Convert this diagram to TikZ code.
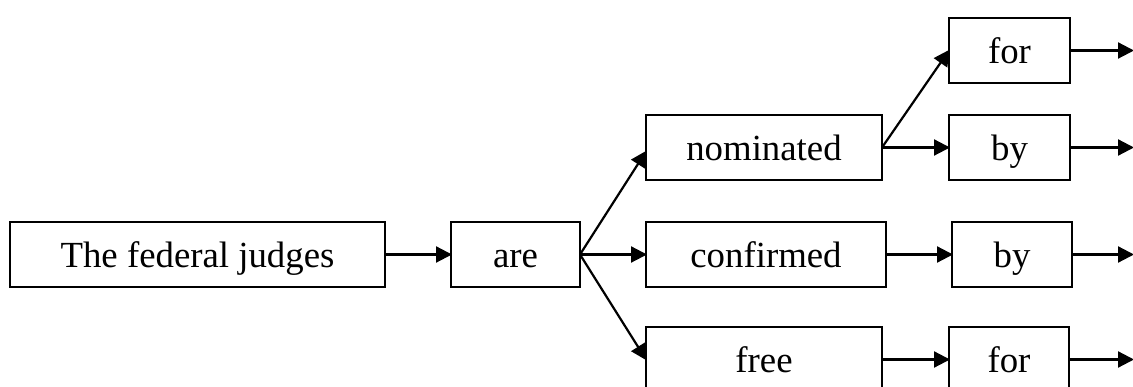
\documentclass[tikz,border=0pt]{standalone}
\usepackage{fontspec}
\setmainfont{Liberation Serif}
\usetikzlibrary{arrows.meta}

\tikzset{
  wordbox/.style={draw, line width=2.4pt, inner sep=0pt, outer sep=0pt,
    font=\fontsize{36.8}{44}\selectfont, text height=46pt, text depth=19pt,
    anchor=north west},
  link/.style={line width=2.2pt, -{Triangle[length=16pt,width=16pt]}, shorten >=-1pt}
}

\begin{document}
\begin{tikzpicture}[x=1pt,y=-1pt]
  \clip (0,0) rectangle (1133,387);
  \useasboundingbox (0,0) rectangle (1133,387);

  % word boxes: top-left corner, width in px
  \node[wordbox, minimum width=375pt] (judges) at (10,222) {The federal judges};
  \node[wordbox, minimum width=129pt] (are) at (451,222) {are};
  \node[wordbox, minimum width=236pt] (nominated) at (646,115) {nominated};
  \node[wordbox, minimum width=240pt] (confirmed) at (646,222) {confirmed};
  \node[wordbox, minimum width=236pt] (free) at (646,327) {free};
  \node[wordbox, minimum width=121pt] (forA) at (949,18) {for};
  \node[wordbox, minimum width=121pt] (byA) at (949,115) {by};
  \node[wordbox, minimum width=120pt] (byB) at (952,222) {by};
  \node[wordbox, minimum width=120pt] (forB) at (949,327) {for};

  % loose ends at the right edge
  \coordinate (edge) at (1133,0);
  \coordinate (outA) at (forA.east -| edge);
  \coordinate (outB) at (byA.east -| edge);
  \coordinate (outC) at (byB.east -| edge);
  \coordinate (outD) at (forB.east -| edge);

  \draw[link] (judges.east) -- (are.west);
  \draw[link] (are.east) -- ([yshift=-4pt]nominated.west);
  \draw[link] (are.east) -- (confirmed.west);
  \draw[link] (are.east) -- (free.west);
  \draw[link] (nominated.east) -- (forA.west);
  \draw[link] (nominated.east) -- (byA.west);
  \draw[link] (confirmed.east) -- (byB.west);
  \draw[link] (free.east) -- (forB.west);
  \draw[link] (forA.east) -- (outA);
  \draw[link] (byA.east) -- (outB);
  \draw[link] (byB.east) -- (outC);
  \draw[link] (forB.east) -- (outD);
\end{tikzpicture}
\end{document}
